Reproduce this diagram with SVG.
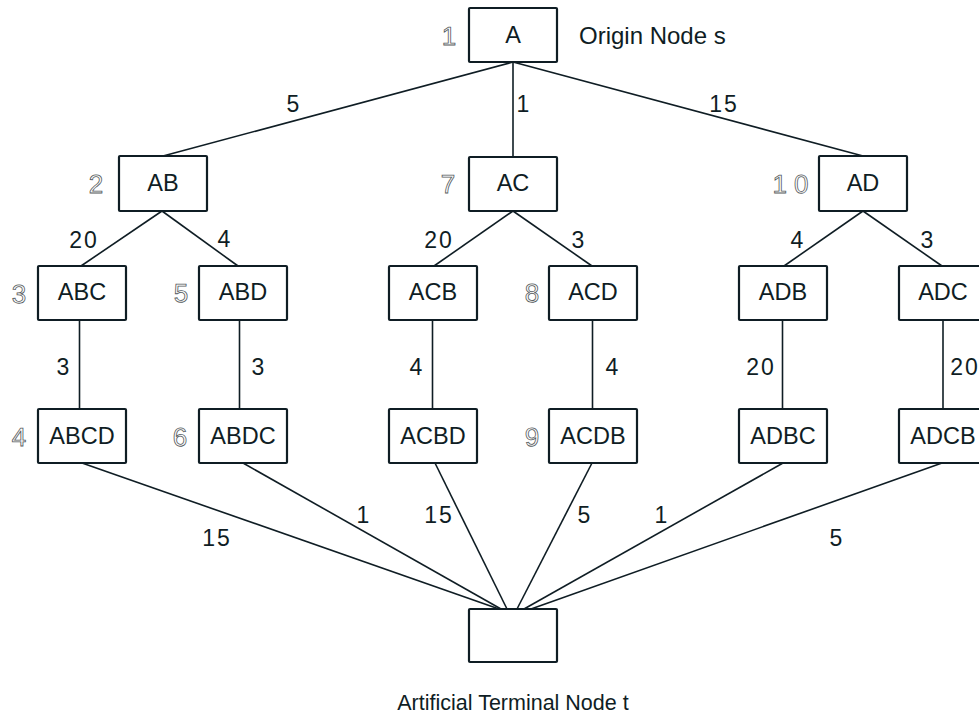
<svg xmlns="http://www.w3.org/2000/svg" width="979" height="717" viewBox="0 0 979 717">
<style>
.box{fill:#fff;stroke:#0f1d24;stroke-width:2.2}
.t{font-family:"Liberation Sans",Arial,sans-serif;font-size:23.5px;fill:#0f1d24;text-anchor:middle;dominant-baseline:central}
.lbl{font-family:"Liberation Sans",Arial,sans-serif;font-size:23px;fill:#0f1d24;text-anchor:middle;dominant-baseline:central;letter-spacing:2px}
.num{font-family:"Liberation Sans",Arial,sans-serif;font-size:26px;fill:#fff;stroke:#555a5d;stroke-width:0.8;text-anchor:middle;dominant-baseline:central;text-rendering:geometricPrecision}
.e{stroke:#0f1d24;stroke-width:1.6;fill:none}
</style>
<rect width="979" height="717" fill="#fff"/>
<g id="connectors">
<line class="e" x1="513" y1="62" x2="163" y2="156"/>
<line class="e" x1="513" y1="62" x2="513" y2="157"/>
<line class="e" x1="513" y1="62" x2="863" y2="156"/>
<line class="e" x1="162" y1="211" x2="81" y2="266"/>
<line class="e" x1="162" y1="211" x2="238" y2="266"/>
<line class="e" x1="513" y1="211" x2="434" y2="266"/>
<line class="e" x1="513" y1="211" x2="592" y2="266"/>
<line class="e" x1="863" y1="211" x2="784" y2="266"/>
<line class="e" x1="863" y1="211" x2="942" y2="266"/>
<line class="e" x1="79.5" y1="320" x2="79.5" y2="409"/>
<line class="e" x1="239.5" y1="320" x2="239.5" y2="409"/>
<line class="e" x1="432.5" y1="320" x2="432.5" y2="409"/>
<line class="e" x1="592.5" y1="320" x2="592.5" y2="409"/>
<line class="e" x1="782.5" y1="320" x2="782.5" y2="409"/>
<line class="e" x1="943" y1="320" x2="943" y2="409"/>
<line class="e" x1="82" y1="463" x2="499" y2="609"/>
<line class="e" x1="243" y1="463" x2="501" y2="609"/>
<line class="e" x1="435" y1="463" x2="507" y2="609"/>
<line class="e" x1="592" y1="463" x2="517" y2="609"/>
<line class="e" x1="783" y1="463" x2="524" y2="609"/>
<line class="e" x1="942" y1="463" x2="531" y2="609"/>
</g>
<g id="edge-labels">
<text class="lbl" x="294" y="104">5</text>
<text class="lbl" x="524" y="104">1</text>
<text class="lbl" x="724" y="104">15</text>
<text class="lbl" x="84" y="240">20</text>
<text class="lbl" x="225" y="239">4</text>
<text class="lbl" x="439" y="240">20</text>
<text class="lbl" x="579" y="240">3</text>
<text class="lbl" x="798" y="240">4</text>
<text class="lbl" x="928" y="240">3</text>
<text class="lbl" x="64" y="367">3</text>
<text class="lbl" x="259" y="367">3</text>
<text class="lbl" x="417" y="367">4</text>
<text class="lbl" x="613" y="367">4</text>
<text class="lbl" x="761" y="367">20</text>
<text class="lbl" x="965" y="367">20</text>
<text class="lbl" x="217" y="538">15</text>
<text class="lbl" x="364" y="515">1</text>
<text class="lbl" x="439" y="515">15</text>
<text class="lbl" x="585" y="515">5</text>
<text class="lbl" x="662" y="515">1</text>
<text class="lbl" x="837" y="538">5</text>
</g>
<g id="node-A"><rect class="box" x="469" y="8" width="88" height="54" rx="1"/><text class="t" x="513" y="35">A</text><text class="num" x="449" y="36">1</text><text class="t" x="579" y="35" style="text-anchor:start;font-size:24px">Origin Node s</text></g>
<g id="node-AB"><rect class="box" x="119" y="156" width="88" height="55" rx="1"/><text class="t" x="163" y="183">AB</text><text class="num" x="96" y="184">2</text></g>
<g id="node-AC"><rect class="box" x="469" y="157" width="88" height="54" rx="1"/><text class="t" x="513" y="183">AC</text><text class="num" x="448" y="184">7</text></g>
<g id="node-AD"><rect class="box" x="819" y="156" width="88" height="55" rx="1"/><text class="t" x="863" y="183">AD</text><text class="num" x="794" y="184" style="letter-spacing:7px">10</text></g>
<g id="node-ABC"><rect class="box" x="38" y="266" width="88" height="54" rx="1"/><text class="t" x="82" y="292">ABC</text><text class="num" x="19" y="294">3</text></g>
<g id="node-ABD"><rect class="box" x="199" y="266" width="88" height="54" rx="1"/><text class="t" x="243" y="292">ABD</text><text class="num" x="181" y="293">5</text></g>
<g id="node-ACB"><rect class="box" x="389" y="266" width="88" height="54" rx="1"/><text class="t" x="433" y="292">ACB</text></g>
<g id="node-ACD"><rect class="box" x="549" y="266" width="88" height="54" rx="1"/><text class="t" x="593" y="292">ACD</text><text class="num" x="532" y="293">8</text></g>
<g id="node-ADB"><rect class="box" x="739" y="266" width="88" height="54" rx="1"/><text class="t" x="783" y="292">ADB</text></g>
<g id="node-ADC"><rect class="box" x="899" y="266" width="88" height="54" rx="1"/><text class="t" x="943" y="292">ADC</text></g>
<g id="node-ABCD"><rect class="box" x="38" y="409" width="88" height="54" rx="1"/><text class="t" x="82" y="436">ABCD</text><text class="num" x="19" y="437">4</text></g>
<g id="node-ABDC"><rect class="box" x="199" y="409" width="88" height="54" rx="1"/><text class="t" x="243" y="436">ABDC</text><text class="num" x="180" y="437">6</text></g>
<g id="node-ACBD"><rect class="box" x="389" y="409" width="88" height="54" rx="1"/><text class="t" x="433" y="436">ACBD</text></g>
<g id="node-ACDB"><rect class="box" x="549" y="409" width="88" height="54" rx="1"/><text class="t" x="593" y="436">ACDB</text><text class="num" x="532" y="437">9</text></g>
<g id="node-ADBC"><rect class="box" x="739" y="409" width="88" height="54" rx="1"/><text class="t" x="783" y="436">ADBC</text></g>
<g id="node-ADCB"><rect class="box" x="899" y="409" width="88" height="54" rx="1"/><text class="t" x="943" y="436">ADCB</text></g>
<g id="node-t"><rect class="box" x="469" y="609" width="88" height="53" rx="1"/><text class="t" x="513" y="703" style="font-size:21.5px">Artificial Terminal Node t</text></g>
</svg>
